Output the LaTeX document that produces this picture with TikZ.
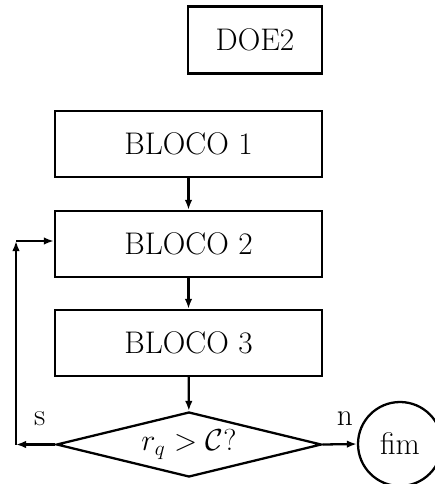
\documentclass[tikz,border=0pt]{standalone}
\usepackage{amsmath}
\usepackage{amssymb}
\usetikzlibrary{positioning,arrows.meta,shapes.geometric,calc}

\begin{document}
\begin{tikzpicture}[
    bloco/.style={draw, rectangle, line width=1.3pt, minimum width=5.34cm, minimum height=1.32cm, font=\fontsize{17.8}{21}\selectfont},
    decisao/.style={draw, diamond, line width=1.3pt, inner sep=0pt, aspect=4, minimum width=5.3cm, minimum height=1.3cm, font=\fontsize{17.8}{21}\selectfont},
    fim/.style={draw, circle, line width=1.3pt, minimum size=1.68cm, inner sep=0pt, font=\fontsize{17.8}{21}\selectfont},
    arrow/.style={-{Latex[length=2mm, width=1.5mm]}, line width=1.3pt},
    rotulo/.style={font=\fontsize{17.8}{21}\selectfont}
]
    \useasboundingbox (0,0) rectangle (8.68,-9.68);

    % Title box
    \node[bloco, minimum width=2.68cm, minimum height=1.34cm] (doe) at (5.10, -0.80) {DOE2};

    % Main column
    \node[bloco] (b1) at (3.77, -2.88) {BLOCO 1};
    \node[bloco] (b2) at (3.77, -4.88) {BLOCO 2};
    \node[bloco] (b3) at (3.77, -6.86) {BLOCO 3};
    \node[decisao] (teste) at (3.78, -8.89) {$r_q > \mathcal{C}?$};
    \node[fim] (fim) at (8.00, -8.88) {fim};

    \draw[arrow] (b1) -- (b2);
    \draw[arrow] (b2) -- (b3);
    \draw[arrow] (b3) -- (teste);

    % Loop back (s) and exit (n)
    \coordinate (volta_baixo) at (0.32, -8.89);
    \coordinate (volta_alto) at (0.32, -4.82);
    \draw[arrow] (teste.west) -- (volta_baixo) node[rotulo, pos=0.4, yshift=0.52cm] {s};
    \draw[arrow] (volta_baixo) -- (volta_alto);
    \draw[arrow] (volta_alto) -- (volta_alto -| b2.west);
    \draw[arrow] (teste.east) -- (fim.west) node[rotulo, pos=0.65, yshift=0.52cm] {n};

\end{tikzpicture}
\end{document}
